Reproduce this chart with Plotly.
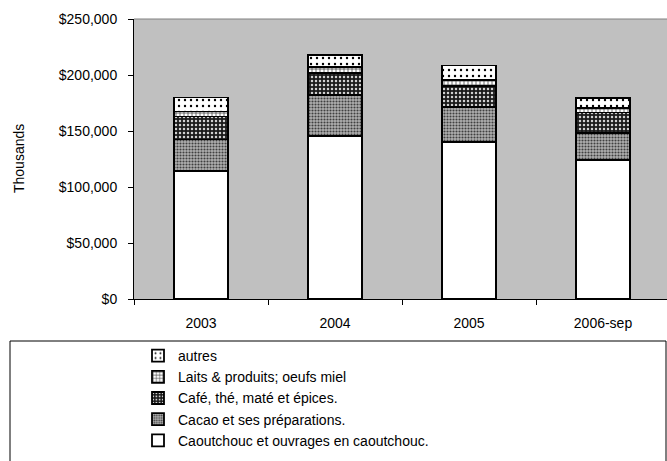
import plotly.graph_objects as go

years = ["2003", "2004", "2005", "2006-sep"]
caoutchouc = [114000, 145500, 140500, 124000]
cacao = [28500, 37000, 31000, 24500]
cafe = [20500, 19000, 19000, 18000]
laits = [4500, 6000, 5000, 4000]
autres = [12500, 10500, 13000, 9000]

ytick_vals = [0, 50000, 100000, 150000, 200000, 250000]
ytick_text = ["$0", "$50,000", "$100,000", "$150,000", "$200,000", "$250,000"]

names = [
    "Caoutchouc et ouvrages en caoutchouc.",
    "Cacao et ses préparations.",
    "Café, thé, maté et épices.",
    "Laits & produits; oeufs miel",
    "autres",
]
series = [caoutchouc, cacao, cafe, laits, autres]
patterns = [
    dict(shape="", bgcolor="white", fgcolor="white"),
    dict(shape=".", bgcolor="#b0b0b0", fgcolor="#404040", size=3, solidity=0.4, fillmode="replace"),
    dict(shape=".", bgcolor="#1a1a1a", fgcolor="#d0d0d0", size=4, solidity=0.3, fillmode="replace"),
    dict(shape="+", bgcolor="white", fgcolor="#404040", size=4, solidity=0.35, fillmode="replace"),
    dict(shape=".", bgcolor="white", fgcolor="black", size=6, solidity=0.12, fillmode="replace"),
]

FONT = "Liberation Sans, Arial, sans-serif"
FS = 14

fig = go.Figure()
for nm, vals, pat in zip(names, series, patterns):
    fig.add_trace(go.Bar(
        x=years, y=vals, name=nm,
        marker=dict(color="white", line=dict(color="black", width=1.8), pattern=pat),
    ))

W, H = 667, 461
L, R, T, B = 134, 0, 19, 162
pw = W - L - R
ph = H - T - B

def px_x(x):
    return (x - L) / pw

def px_y(y):
    return (H - B - y) / ph

fig.update_layout(
    width=W, height=H, autosize=False,
    margin=dict(l=L, r=R, t=T, b=B, pad=0),
    barmode="stack", bargap=0.6,
    plot_bgcolor="#c0c0c0", paper_bgcolor="white",
    font=dict(family=FONT, size=FS, color="black"),
    showlegend=True,
    legend=dict(
        traceorder="reversed",
        x=px_x(138), y=px_y(340), xanchor="left", yanchor="top",
        xref="paper", yref="paper",
        bgcolor="rgba(0,0,0,0)", borderwidth=0,
        font=dict(family=FONT, size=FS, color="black"),
        itemclick=False,
    ),
    xaxis=dict(
        type="category", range=[-0.5, -0.5 + pw / 134.0],
        showline=True, linecolor="black", linewidth=1,
        ticks="outside", tickson="boundaries", ticklen=5, tickcolor="black",
        ticklabelstandoff=11, showgrid=False, zeroline=False,
    ),
    yaxis=dict(
        range=[0, 250000], tickmode="array", tickvals=ytick_vals, ticktext=ytick_text,
        showline=True, linecolor="black", linewidth=1,
        ticks="outside", ticklen=5, tickcolor="black",
        ticklabelstandoff=8, showgrid=False, zeroline=False,
    ),
    shapes=[
        dict(type="line", xref="paper", yref="paper", x0=0, x1=1, y0=1, y1=1,
             line=dict(color="#808080", width=1)),
        dict(type="rect", xref="paper", yref="paper",
             x0=px_x(10), x1=px_x(666), y0=px_y(341), y1=px_y(480),
             line=dict(color="black", width=1), fillcolor="rgba(0,0,0,0)"),
    ],
    annotations=[
        dict(text="Thousands", textangle=-90, xref="paper", yref="paper",
             x=px_x(19), y=0.5, xanchor="center", yanchor="middle",
             showarrow=False, font=dict(family=FONT, size=FS)),
    ],
)

fig.write_html(
    "out.html",
    config={"displayModeBar": False},
    post_script="document.body.style.margin='0';document.body.style.padding='0';",
)
